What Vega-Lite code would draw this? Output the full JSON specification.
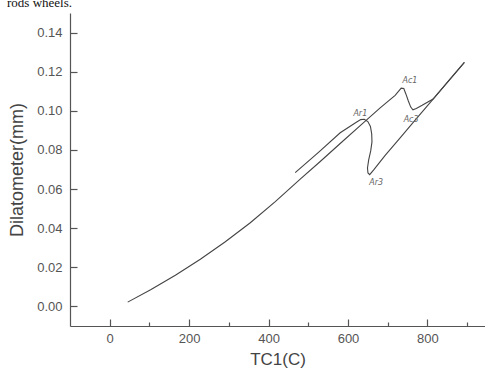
{
  "$schema": "https://vega.github.io/schema/vega-lite/v6.json",
  "width": 415,
  "height": 313,
  "autosize": {"type": "none"},
  "padding": {"left": 70, "top": 13, "right": 0, "bottom": 47},
  "background": "white",
  "config": {
    "view": {"stroke": null},
    "font": "Liberation Sans"
  },
  "title": {
    "text": "rods wheels.",
    "font": "Liberation Serif",
    "fontSize": 13,
    "fontWeight": "normal",
    "color": "#111",
    "anchor": "start",
    "baseline": "alphabetic",
    "frame": "group",
    "offset": 0,
    "dy": 7,
    "dx": -63
  },
  "datasets": {
    "curve": [
      {"run": "heating", "i": 1, "t": 45.3, "d": 0.0022},
      {"run": "heating", "i": 2, "t": 103.0, "d": 0.0085},
      {"run": "heating", "i": 3, "t": 165.3, "d": 0.0159},
      {"run": "heating", "i": 4, "t": 228.2, "d": 0.0241},
      {"run": "heating", "i": 5, "t": 291.1, "d": 0.0331},
      {"run": "heating", "i": 6, "t": 354.0, "d": 0.0428},
      {"run": "heating", "i": 7, "t": 416.9, "d": 0.0536},
      {"run": "heating", "i": 8, "t": 479.7, "d": 0.0651},
      {"run": "heating", "i": 9, "t": 530.1, "d": 0.0741},
      {"run": "heating", "i": 10, "t": 580.4, "d": 0.0833},
      {"run": "heating", "i": 11, "t": 635.7, "d": 0.0933},
      {"run": "heating", "i": 12, "t": 681.0, "d": 0.1015},
      {"run": "heating", "i": 13, "t": 718.7, "d": 0.1079},
      {"run": "heating", "i": 14, "t": 734.0, "d": 0.1116},
      {"run": "heating", "i": 15, "t": 740.5, "d": 0.1114},
      {"run": "heating", "i": 16, "t": 746.0, "d": 0.1085},
      {"run": "heating", "i": 17, "t": 752.0, "d": 0.1050},
      {"run": "heating", "i": 18, "t": 758.0, "d": 0.1019},
      {"run": "heating", "i": 19, "t": 763.5, "d": 0.1005},
      {"run": "heating", "i": 20, "t": 772.0, "d": 0.1012},
      {"run": "heating", "i": 21, "t": 786.7, "d": 0.1028},
      {"run": "heating", "i": 22, "t": 814.3, "d": 0.1060},
      {"run": "heating", "i": 23, "t": 857.1, "d": 0.1162},
      {"run": "heating", "i": 24, "t": 893.1, "d": 0.1248},
      {"run": "cooling", "i": 1, "t": 893.1, "d": 0.1248},
      {"run": "cooling", "i": 2, "t": 857.1, "d": 0.1162},
      {"run": "cooling", "i": 3, "t": 814.3, "d": 0.1060},
      {"run": "cooling", "i": 4, "t": 769.1, "d": 0.0952},
      {"run": "cooling", "i": 5, "t": 731.3, "d": 0.0862},
      {"run": "cooling", "i": 6, "t": 693.6, "d": 0.0772},
      {"run": "cooling", "i": 7, "t": 664.7, "d": 0.0698},
      {"run": "cooling", "i": 8, "t": 654.6, "d": 0.0674},
      {"run": "cooling", "i": 9, "t": 650.3, "d": 0.0682},
      {"run": "cooling", "i": 10, "t": 649.1, "d": 0.0708},
      {"run": "cooling", "i": 11, "t": 652.1, "d": 0.0749},
      {"run": "cooling", "i": 12, "t": 657.2, "d": 0.0795},
      {"run": "cooling", "i": 13, "t": 660.4, "d": 0.0841},
      {"run": "cooling", "i": 14, "t": 659.7, "d": 0.0882},
      {"run": "cooling", "i": 15, "t": 656.5, "d": 0.0920},
      {"run": "cooling", "i": 16, "t": 650.0, "d": 0.0945},
      {"run": "cooling", "i": 17, "t": 641.0, "d": 0.0957},
      {"run": "cooling", "i": 18, "t": 632.0, "d": 0.0955},
      {"run": "cooling", "i": 19, "t": 620.0, "d": 0.0940},
      {"run": "cooling", "i": 20, "t": 580.4, "d": 0.0888},
      {"run": "cooling", "i": 21, "t": 525.0, "d": 0.0786},
      {"run": "cooling", "i": 22, "t": 467.1, "d": 0.0684}
    ],
    "notes": [
      {"label": "Ar1", "t": 631, "d": 0.0985},
      {"label": "Ac1", "t": 756, "d": 0.1154},
      {"label": "Ac3", "t": 759, "d": 0.0954},
      {"label": "Ar3", "t": 671, "d": 0.0631}
    ]
  },
  "layer": [
    {
      "mark": {"type": "rule", "color": "#555", "strokeWidth": 1.2},
      "encoding": {"y": {"datum": 0.15, "type": "quantitative"}}
    },
    {
      "data": {"name": "curve"},
      "mark": {"type": "line", "color": "#444", "strokeWidth": 1.1},
      "encoding": {
        "x": {
          "field": "t", "type": "quantitative",
          "scale": {"domain": [-100, 945], "nice": false, "zero": false},
          "axis": {
            "title": "TC1(C)",
            "titleFont": "Liberation Sans",
            "titleFontSize": 17,
            "titleFontWeight": "normal",
            "titleColor": "#444",
            "titlePadding": 6,
            "values": [0, 100, 200, 300, 400, 500, 600, 700, 800, 900],
            "labelExpr": "datum.value % 200 === 0 ? datum.label : ''",
            "labelFontSize": 13,
            "labelColor": "#555",
            "labelPadding": 13,
            "grid": false,
            "domainColor": "#555",
            "domainWidth": 1.2,
            "tickColor": "#555",
            "tickWidth": 1.2,
            "tickSize": {"condition": {"test": "datum.value % 200 === 0", "value": -7}, "value": -4}
          }
        },
        "y": {
          "field": "d", "type": "quantitative",
          "scale": {"domain": [-0.01, 0.15], "nice": false, "zero": false},
          "axis": {
            "title": "Dilatometer(mm)",
            "titleFont": "Liberation Sans",
            "titleFontSize": 18,
            "titleFontWeight": "normal",
            "titleColor": "#444",
            "titlePadding": 10,
            "values": [0, 0.01, 0.02, 0.03, 0.04, 0.05, 0.06, 0.07, 0.08, 0.09, 0.1, 0.11, 0.12, 0.13, 0.14],
            "labelExpr": "round(datum.value * 100) % 2 === 0 ? format(datum.value, '.2f') : ''",
            "labelFontSize": 13,
            "labelColor": "#555",
            "labelPadding": 15,
            "grid": false,
            "domainColor": "#555",
            "domainWidth": 1.2,
            "tickColor": "#555",
            "tickWidth": 1.2,
            "tickSize": {"condition": {"test": "round(datum.value * 100) % 2 === 0", "value": -7}, "value": -4}
          }
        },
        "detail": {"field": "run"},
        "order": {"field": "i", "type": "quantitative"}
      }
    },
    {
      "data": {"name": "notes"},
      "mark": {"type": "text", "fontSize": 8, "color": "#666", "font": "DejaVu Sans", "fontStyle": "italic"},
      "encoding": {
        "x": {"field": "t", "type": "quantitative"},
        "y": {"field": "d", "type": "quantitative"},
        "text": {"field": "label"}
      }
    }
  ]
}
